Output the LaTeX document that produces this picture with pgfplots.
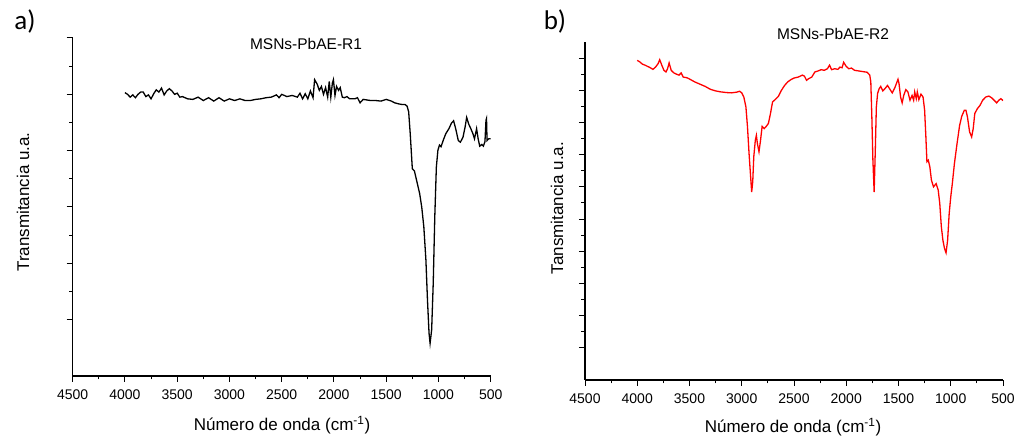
\documentclass[border=0pt]{standalone}
\usepackage{pgfplots}
\pgfplotsset{compat=1.18}
\usepackage{fontspec}
\setmainfont{Liberation Sans}
\newfontfamily\calib{Carlito}
\pgfplotsset{
  irstyle/.style={
    scale only axis,
    width=418pt, height=338pt,
    anchor=south west,
    axis lines*=left,
    x dir=reverse,
    xmin=500, xmax=4500,
    ymin=0,
    xtick={500,1000,...,4500},
    minor x tick num=1,
    minor y tick num=1,
    yticklabels={},
    tick align=outside,
    major tick length=6pt,
    minor tick length=3.5pt,
    axis line style={line width=1.1pt},
    every tick/.style={black, line width=1pt},
    every minor tick/.style={black, line width=1pt},
    /pgf/number format/assume math mode=true,
    /pgf/number format/set thousands separator={},
    ticklabel style={font=\fontsize{14}{16}\selectfont},
    xticklabel style={yshift=-4pt},
  }
}
\begin{document}
\begin{tikzpicture}
\useasboundingbox (0,0) rectangle (1031pt,438pt);
\begin{axis}[irstyle, at={(72.7pt,62pt)}, ymax=6, ytick={1,...,6}]
\addplot[black, line width=1.3pt] coordinates {
(4000,5.03) (3975,5.00) (3950,4.95) (3925,4.99) (3900,4.94) (3875,5.00) (3850,5.04) (3825,5.04)
(3800,4.96) (3775,4.99) (3750,4.92) (3725,5.01) (3700,5.08) (3675,5.04) (3650,5.11) (3625,4.99)
(3600,5.06) (3575,5.10) (3550,5.06) (3525,5.00) (3500,5.02) (3475,4.95) (3450,4.96) (3400,4.92)
(3350,4.91) (3300,4.95) (3250,4.89) (3200,4.94) (3150,4.88) (3100,4.94) (3050,4.88) (3000,4.92)
(2950,4.89) (2900,4.92) (2850,4.89) (2800,4.89) (2750,4.91) (2700,4.92) (2650,4.94) (2600,4.95)
(2550,4.99) (2525,4.94) (2500,5.00) (2450,4.96) (2400,4.98) (2350,4.95) (2325,5.02) (2300,4.92)
(2275,5.01) (2250,4.92) (2225,5.06) (2200,4.94) (2185,5.26) (2160,5.18) (2140,5.07) (2120,5.14)
(2100,5.00) (2080,5.12) (2060,4.95) (2045,5.23) (2030,4.95) (2015,5.20) (2005,5.26) (1990,4.98)
(1975,5.14) (1955,5.07) (1940,5.12) (1920,4.95) (1900,4.94) (1875,4.96) (1850,4.92) (1800,4.92)
(1775,4.94) (1750,4.85) (1720,4.91) (1650,4.89) (1600,4.89) (1550,4.88) (1500,4.91) (1450,4.88)
(1420,4.85) (1380,4.83) (1350,4.82) (1320,4.82) (1300,4.79) (1285,4.69) (1270,4.30) (1250,3.68)
(1230,3.64) (1210,3.48) (1180,3.24) (1160,3.00) (1140,2.65) (1120,2.06) (1105,1.35) (1090,0.76)
(1080,0.58) (1065,0.82) (1050,1.64) (1035,2.83) (1020,3.71) (1005,4.01) (990,4.10) (975,4.07)
(955,4.18) (930,4.30) (900,4.39) (875,4.49) (855,4.53) (835,4.39) (810,4.18) (790,4.15)
(765,4.24) (745,4.42) (730,4.59) (710,4.47) (690,4.39) (670,4.30) (655,4.21) (635,4.39)
(620,4.21) (605,4.08) (585,4.11) (570,4.08) (555,4.16) (545,4.54) (540,4.57) (535,4.18)
(520,4.21) (505,4.21) (500,4.21)
};
\end{axis}
\begin{axis}[irstyle, at={(585pt,58pt)}, ymax=10.5, ytick={1,...,10}]
\addplot[red, line width=1.3pt] coordinates {
(4000,9.93) (3975,9.88) (3950,9.81) (3925,9.78) (3900,9.74) (3875,9.70) (3850,9.65) (3825,9.72)
(3800,9.83) (3785,9.95) (3765,9.78) (3745,9.62) (3725,9.57) (3710,9.67) (3695,9.85) (3675,9.62)
(3650,9.54) (3625,9.50) (3600,9.47) (3580,9.54) (3560,9.41) (3525,9.39) (3500,9.35) (3450,9.26)
(3400,9.19) (3350,9.12) (3300,9.03) (3250,8.98) (3200,8.95) (3150,8.93) (3100,8.92) (3050,8.94)
(3020,8.97) (3000,8.92) (2980,8.79) (2960,8.48) (2945,7.86) (2930,7.03) (2915,6.31) (2905,5.84)
(2895,6.15) (2885,6.93) (2870,7.45) (2860,7.60) (2850,7.34) (2835,7.09) (2820,7.45) (2805,7.88)
(2785,7.81) (2765,7.88) (2745,7.97) (2725,8.28) (2705,8.64) (2680,8.71) (2650,8.81) (2620,9.00)
(2590,9.15) (2560,9.26) (2530,9.33) (2500,9.38) (2460,9.41) (2420,9.47) (2400,9.44) (2380,9.31)
(2360,9.36) (2330,9.41) (2300,9.57) (2270,9.60) (2240,9.64) (2210,9.62) (2180,9.67) (2160,9.78)
(2140,9.64) (2110,9.67) (2080,9.65) (2060,9.72) (2040,9.70) (2025,9.87) (2000,9.74) (1975,9.67)
(1950,9.69) (1920,9.62) (1880,9.60) (1840,9.58) (1800,9.56) (1775,9.47) (1765,9.26) (1755,8.17)
(1745,6.83) (1733,5.84) (1722,7.14) (1712,8.48) (1700,8.90) (1685,9.05) (1670,9.12) (1650,8.98)
(1630,9.05) (1605,9.15) (1580,9.02) (1560,8.92) (1535,9.08) (1505,9.34) (1495,9.21) (1480,8.79)
(1465,8.61) (1450,8.84) (1430,9.02) (1410,8.95) (1390,8.69) (1370,8.84) (1355,8.69) (1345,8.95)
(1330,8.74) (1320,8.95) (1305,8.71) (1285,8.88) (1265,8.79) (1250,8.38) (1238,7.55) (1228,6.78)
(1215,6.83) (1200,6.62) (1185,6.21) (1165,6.00) (1140,6.10) (1120,5.90) (1105,5.48) (1090,4.76)
(1075,4.34) (1060,4.09) (1045,3.95) (1030,4.34) (1015,5.17) (1000,5.69) (985,6.10) (965,6.72)
(940,7.34) (915,7.91) (895,8.19) (870,8.38) (855,8.38) (840,8.17) (820,7.71) (800,7.55)
(785,7.81) (770,8.28) (745,8.43) (720,8.53) (695,8.69) (665,8.79) (635,8.82) (610,8.77)
(585,8.69) (560,8.61) (540,8.69) (520,8.74) (505,8.69) (500,8.71)
};
\end{axis}
\node[font=\fontsize{15.5}{18}\selectfont] at (306pt,394pt) {MSNs-PbAE-R1};
\node[font=\fontsize{15.5}{18}\selectfont] at (833pt,404pt) {MSNs-PbAE-R2};
\node[font=\fontsize{17}{20}\selectfont] at (282pt,13pt) {Número de onda (cm\textsuperscript{-1})};
\node[font=\fontsize{17}{20}\selectfont] at (793pt,11pt) {Número de onda (cm\textsuperscript{-1})};
\node[font=\fontsize{17}{20}\selectfont, rotate=90] at (23pt,236pt) {Transmitancia u.a.};
\node[font=\fontsize{17}{20}\selectfont, rotate=90] at (557pt,230pt) {Tansmitancia u.a.};
\node[font=\calib\fontsize{27}{30}\selectfont] at (25pt,416pt) {a)};
\node[font=\calib\fontsize{27}{30}\selectfont] at (555pt,416pt) {b)};
\end{tikzpicture}
\end{document}
